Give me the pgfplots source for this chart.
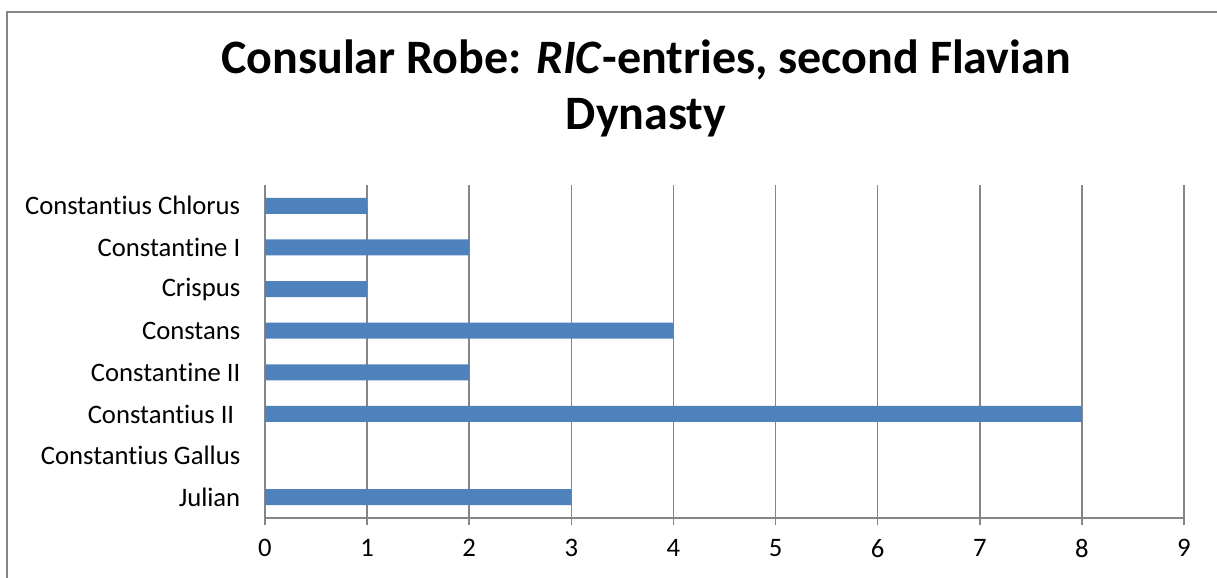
\documentclass[border=0pt]{standalone}
\usepackage{pgfplots}
\pgfplotsset{compat=1.18}
\usepackage{fontspec}
\setmainfont{Carlito}[Ligatures={NoCommon}]
\definecolor{barblue}{HTML}{4F81BD}
\definecolor{gridgray}{HTML}{868686}
\begin{document}
\begin{tikzpicture}
\useasboundingbox (0pt,0pt) rectangle (912.75pt,433.5pt);
\draw[gridgray,line width=1.5pt] (5.25pt,0pt) -- (5.25pt,424.5pt) -- (912.75pt,424.5pt);
\node[anchor=base,font=\fontsize{36}{42}\selectfont\bfseries,inner sep=0pt] at (484.5pt,378pt) {Consular Robe: \textit{RIC}-entries, second Flavian};
\node[anchor=base,font=\fontsize{36}{42}\selectfont\bfseries,inner sep=0pt] at (484.5pt,336pt) {Dynasty};
\begin{axis}[
  at={(198.75pt,45pt)}, anchor=south west,
  width=689.25pt, height=249.75pt, scale only axis,
  xbar, bar width=12pt,
  xmin=0, xmax=9, ymin=-0.5, ymax=7.5,
  xtick={0,...,9},
  ytick={0,...,7},
  yticklabels={Julian,Constantius Gallus,{Constantius II\hspace*{4.5pt}},Constantine II,Constans,Crispus,Constantine I,Constantius Chlorus},
  minor ytick={-0.5,0.5,...,7.5},
  axis x line*=bottom, axis y line*=left,
  axis line style={gridgray,line width=1.1pt,-},
  xmajorgrids, major grid style={gridgray,line width=1.1pt},
  tick align=outside,
  major tick length=5.5pt,
  minor tick length=5.5pt,
  ytick style={draw=none},
  minor tick style={gridgray,line width=1.1pt,draw=gridgray},
  xtick style={gridgray,line width=1.1pt},
  tick label style={font=\fontsize{20}{24}\selectfont, text=black},
  /pgf/number format/assume math mode=true,
  xticklabel style={yshift=-7pt},
  yticklabel style={xshift=-9.5pt},
]
\addplot[fill=barblue, draw=none] coordinates {(3,0) (0,1) (8,2) (2,3) (4,4) (1,5) (2,6) (1,7)};
\end{axis}
\end{tikzpicture}
\end{document}
